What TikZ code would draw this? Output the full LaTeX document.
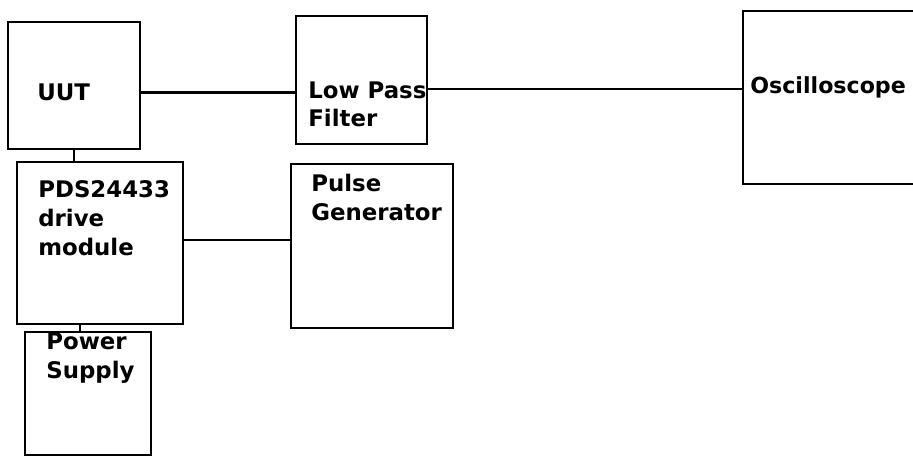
\documentclass[tikz,border=0pt]{standalone}
\usepackage{fontspec}
\setmainfont{DejaVu Sans}
\usepackage{tikz}
\usetikzlibrary{positioning}

\tikzset{
  block/.style={draw, line width=1.1pt, inner sep=0pt},
  lbl/.style={font=\fontsize{13}{16.5}\selectfont\bfseries, align=left, inner sep=0pt, anchor=base west},
  wire/.style={line width=1.1pt}
}

\begin{document}
\begin{tikzpicture}[x=0.02cm, y=-0.02cm]
  \useasboundingbox (0,0) rectangle (913,456);

  % Bloecke
  \node[block, minimum width=2.64cm, minimum height=2.54cm] (uut) at (74,85.5) {};
  \node[block, minimum width=3.32cm, minimum height=3.24cm] (drive) at (100,243) {};
  \node[block, minimum width=2.52cm, minimum height=2.46cm] (psu) at (88,393.5) {};
  \node[block, minimum width=2.62cm, minimum height=2.56cm] (lpf) at (361.5,80) {};
  \node[block, minimum width=3.24cm, minimum height=3.28cm] (pulse) at (372,246) {};
  \node[block, minimum width=4.34cm, minimum height=3.46cm] (scope) at (851.5,97.5) {};

  % Beschriftung (Anker = letzte Zeile)
  \node[lbl] (tuut) at (37,101) {UUT};
  \node[lbl] (tdrive) at (38,255) {PDS24433\\drive\\module};
  \node[lbl] (tpsu) at (46,378) {Power\\Supply};
  \node[lbl] (tlpf) at (308,127) {Low Pass\\Filter};
  \node[lbl] (tpulse) at (311,220) {Pulse\\Generator};
  \node[lbl, font=\fontsize{12.6}{15}\selectfont\bfseries] (tscope) at (750,93) {Oscilloscope};

  % Verbindungen
  \draw[wire, line width=1.7pt] (uut.-6.5) -- (uut.-6.5 -| lpf.west);
  \draw[wire] (lpf.-8.7) -- (lpf.-8.7 -| scope.west);
  \draw[wire] (uut.south) -- (uut.south |- drive.north);
  \draw[wire] (drive.2.4) -- (drive.2.4 -| pulse.west);
  \draw[wire] (drive.-104) -- (drive.-104 |- psu.north);
\end{tikzpicture}
\end{document}
